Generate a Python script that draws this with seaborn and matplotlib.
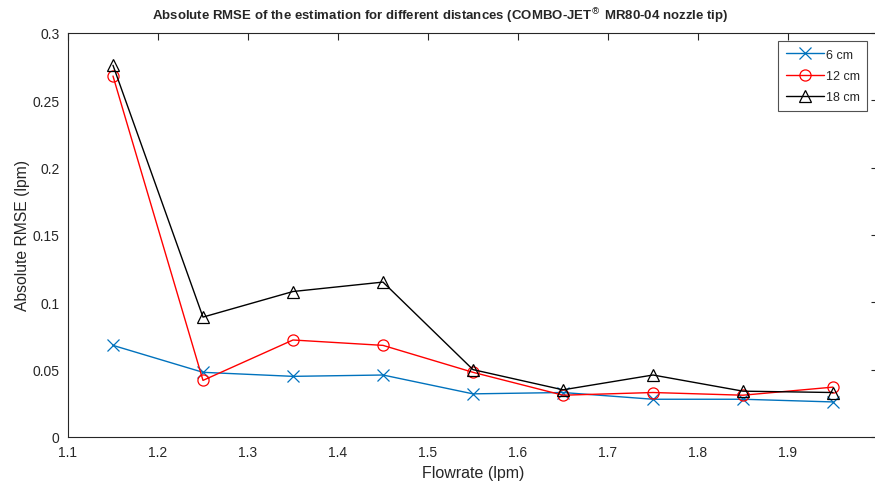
import pandas as pd
import seaborn as sns
import matplotlib.pyplot as plt

# Data
flowrate = [1.15, 1.25, 1.35, 1.45, 1.55, 1.65, 1.75, 1.85, 1.95]
rmse_6cm = [0.068, 0.048, 0.045, 0.046, 0.032, 0.033, 0.028, 0.028, 0.026]
rmse_12cm = [0.268, 0.042, 0.072, 0.068, 0.048, 0.031, 0.033, 0.031, 0.037]
rmse_18cm = [0.276, 0.089, 0.108, 0.115, 0.050, 0.035, 0.046, 0.034, 0.033]
labels = ["6 cm", "12 cm", "18 cm"]

sns.set_style("white")
plt.rcParams["font.family"] = ["Liberation Sans", "DejaVu Sans"]

fig = plt.figure(figsize=(8.75, 4.85), dpi=100)
ax = fig.add_axes([0.0777, 0.097, 0.9257, 0.833])

series = [
    (rmse_6cm, "#0072BD", "x"),
    (rmse_12cm, "#FF0000", "o"),
    (rmse_18cm, "#000000", "^"),
]
for (vals, col, mk), lab in zip(series, labels):
    df = pd.DataFrame({"Flowrate": flowrate, "RMSE": vals})
    sns.lineplot(data=df, x="Flowrate", y="RMSE", ax=ax, color=col, marker=mk,
                 markersize=8, markerfacecolor="none", markeredgecolor=col,
                 markeredgewidth=0.9, linewidth=1.0, label=lab)

ax.set_xlim(1.1, 2.0)
ax.set_ylim(0, 0.3)
ax.set_xticks([1.1, 1.2, 1.3, 1.4, 1.5, 1.6, 1.7, 1.8, 1.9, 2.0])
ax.set_xticklabels(["1.1", "1.2", "1.3", "1.4", "1.5", "1.6", "1.7", "1.8", "1.9", "2"])
ax.set_yticks([0, 0.05, 0.1, 0.15, 0.2, 0.25, 0.3])
ax.set_yticklabels(["0", "0.05", "0.1", "0.15", "0.2", "0.25", "0.3"])
ax.tick_params(direction="in", length=5, width=0.8, top=True, right=True,
               labelsize=10, colors="#262626", pad=6)
for s in ax.spines.values():
    s.set_color("#262626")
    s.set_linewidth(0.8)

ax.set_xlabel("Flowrate (lpm)", fontsize=11.5, labelpad=4)
ax.set_ylabel("Absolute RMSE (lpm)", fontsize=11.3, labelpad=2)
# title sits a bit left of the axes centre in the original
ax.set_title(r"Absolute RMSE of the estimation for different distances (COMBO-JET$^{®}$ MR80-04 nozzle tip)",
             fontsize=9.5, fontweight="bold", pad=10, x=0.459)

leg = ax.legend(loc="upper right", bbox_to_anchor=(0.991, 0.913), bbox_transform=fig.transFigure,
                borderaxespad=0, fontsize=9, frameon=True, fancybox=False, handlelength=3.1,
                borderpad=0.6, labelspacing=0.75, handletextpad=0.1)
leg.get_frame().set_edgecolor("#262626")
leg.get_frame().set_linewidth(0.8)

fig.savefig("out.png", dpi=100)
